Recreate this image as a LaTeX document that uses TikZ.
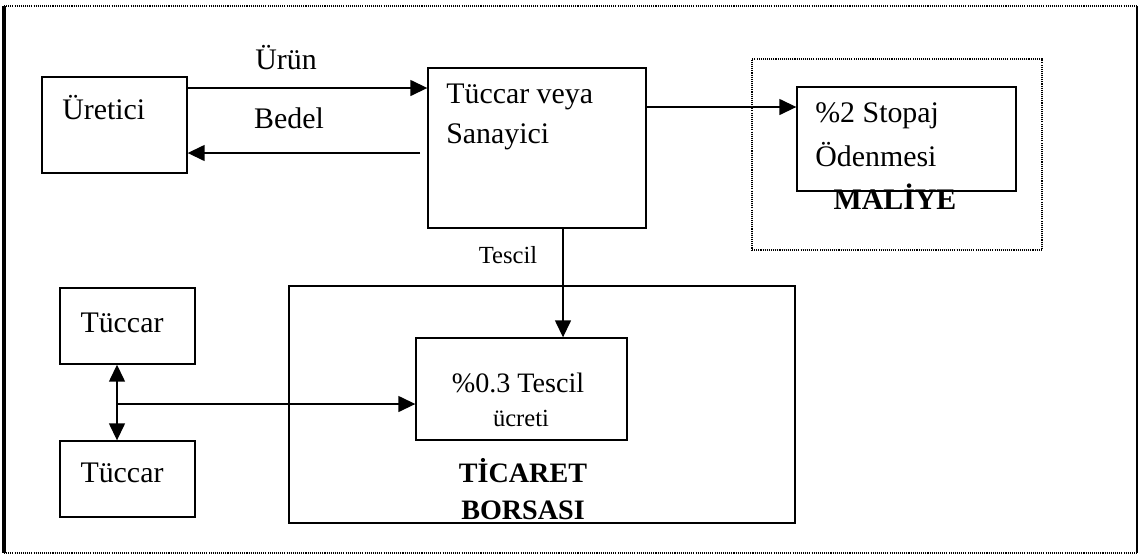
\documentclass[tikz,border=0pt]{standalone}
\usepackage{fontspec}
\setmainfont{Liberation Serif}
\usetikzlibrary{arrows.meta,positioning}

\tikzset{
	kutu/.style={draw, line width=0.8pt, inner sep=0pt},
	ok/.style={line width=0.8pt, -{Triangle[length=0.34cm,width=0.32cm]}},
	yazi/.style={font=\fontsize{17}{22.7}\selectfont, inner sep=0pt},
	noktali/.style={line width=0.7pt, dash pattern=on 0.6pt off 0.6pt}
}

\begin{document}
\begin{tikzpicture}[x=0.02cm, y=-0.02cm]
	\useasboundingbox (0,0) rectangle (1138,555);
	% outer frame
	\draw[line width=2pt] (4,6) -- (4,553);
	\draw[line width=0.8pt] (1137,6) -- (1137,553);
	\draw[noktali] (4,6) -- (1137,6);
	\draw[noktali] (4,553) -- (1137,553);

	% boxes
	\node[kutu, minimum width=2.9cm, minimum height=1.92cm] (uretici) at (114.5,125) {};
	\node[kutu, minimum width=4.36cm, minimum height=3.2cm] (sanayi) at (537,148) {};
	\node[noktali, draw, inner sep=0pt, minimum width=5.8cm, minimum height=3.82cm] (maliye) at (897,154.5) {};
	\node[kutu, fill=white, minimum width=4.38cm, minimum height=2.08cm] (stopaj) at (906.5,139) {};
	\node[kutu, minimum width=10.12cm, minimum height=4.74cm] (borsa) at (542,404.5) {};
	\node[kutu, minimum width=4.22cm, minimum height=2.04cm] (ucret) at (521.5,389) {};
	\node[kutu, minimum width=2.7cm, minimum height=1.52cm] (tuccarA) at (127.5,326) {};
	\node[kutu, minimum width=2.7cm, minimum height=1.52cm] (tuccarB) at (127.5,479) {};

	% texts
	\node[yazi, anchor=west] (uretici-t) at (62,108) {Üretici};
	\node[yazi] (urun) at (286,58) {Ürün};
	\node[yazi] (bedel) at (289,118) {Bedel};
	\node[yazi, anchor=west, align=left] (sanayi-t) at (446,117) {Tüccar veya\\Sanayici};
	\node[yazi, anchor=west, align=left, font=\fontsize{17}{25}\selectfont] (stopaj-t) at (815,135) {\%2 Stopaj\\Ödenmesi};
	\node[yazi, font=\fontsize{17}{20}\bfseries] (maliye-t) at (895,197) {MALİYE};
	\node[yazi, font=\fontsize{14}{16}\selectfont] (tescil) at (508,255) {Tescil};
	\node[yazi, font=\fontsize{16}{18}\selectfont] (ucret-a) at (518,383) {\%0.3 Tescil};
	\node[yazi, font=\fontsize{14}{16}\selectfont] (ucret-b) at (521,418) {ücreti};
	\node[yazi, align=center, font=\fontsize{16}{21.5}\bfseries] (borsa-t) at (523,489) {TİCARET\\BORSASI};
	\node[yazi] (tuccarA-t) at (122,323) {Tüccar};
	\node[yazi] (tuccarB-t) at (122,473) {Tüccar};

	% connectors
	\coordinate (u1) at (187,88);
	\coordinate (b1) at (420,153);
	\coordinate (s1) at (646,107);
	\coordinate (t1) at (563,228);
	\coordinate (j1) at (117,404);
	\draw[ok] (u1) -- (u1 -| sanayi.west);
	\draw[ok] (b1) -- (b1 -| uretici.east);
	\draw[ok] (s1) -- (s1 -| stopaj.west);
	\draw[ok] (t1) -- (t1 |- ucret.north);
	\draw[ok] (j1) -- (j1 -| ucret.west);
	\draw[ok] (j1) -- (j1 |- tuccarA.south);
	\draw[ok] (j1) -- (j1 |- tuccarB.north);
\end{tikzpicture}
\end{document}
